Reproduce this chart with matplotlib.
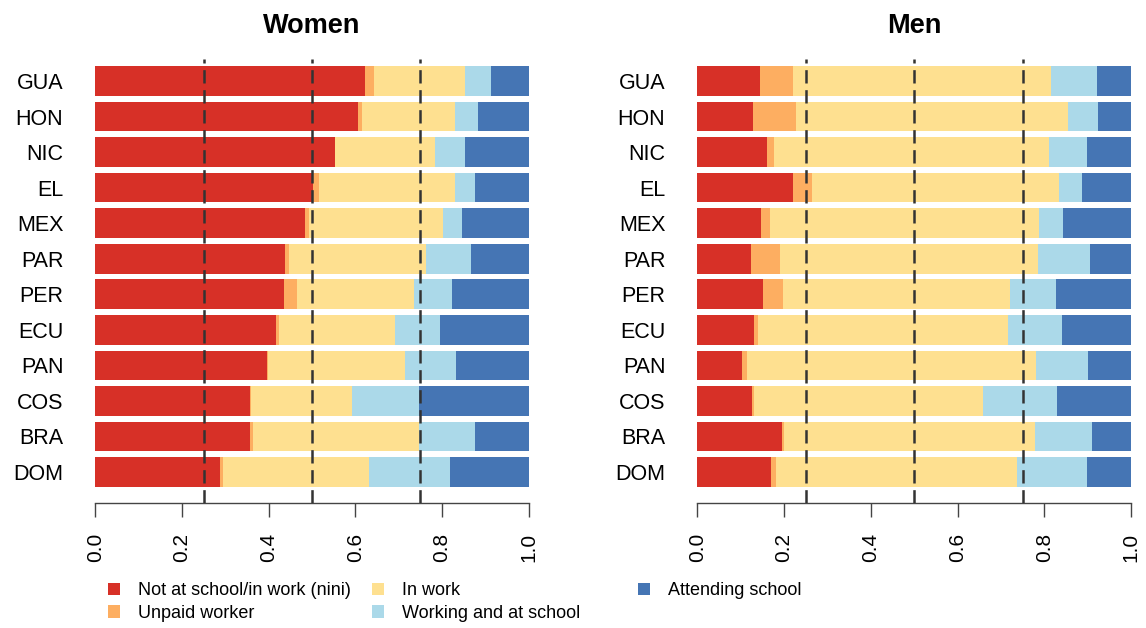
import numpy as np
import matplotlib
matplotlib.use("Agg")
import matplotlib.pyplot as plt
from matplotlib.patches import Patch

# ----------------------
# data (shares, top bar first)
# ----------------------
countries = ["GUA", "HON", "NIC", "EL", "MEX", "PAR", "PER", "ECU", "PAN", "COS", "BRA", "DOM"]
cats = ["Not at school/in work (nini)", "Unpaid worker", "In work",
        "Working and at school", "Attending school"]

women_nini   = [.622, .605, .552, .503, .485, .438, .436, .417, .396, .358, .357, .288]
women_unpaid = [.022, .010, .002, .012, .007, .008, .029, .006, .002, .001, .008, .007]
women_work   = [.208, .215, .230, .316, .310, .316, .270, .269, .317, .233, .383, .337]
women_both   = [.061, .052, .068, .045, .045, .106, .089, .103, .118, .156, .127, .186]
women_school = [.087, .118, .148, .124, .153, .132, .176, .205, .167, .252, .125, .182]

men_nini   = [.144, .128, .161, .221, .146, .123, .151, .130, .104, .127, .196, .171]
men_unpaid = [.077, .099, .017, .043, .022, .068, .047, .009, .010, .004, .004, .010]
men_work   = [.594, .627, .634, .571, .619, .594, .524, .578, .668, .528, .579, .555]
men_both   = [.106, .071, .087, .052, .057, .120, .106, .124, .119, .170, .131, .163]
men_school = [.079, .075, .101, .113, .156, .095, .172, .159, .099, .171, .090, .101]

colors = ["#D73027", "#FDAE61", "#FEE090", "#ABD9E9", "#4575B4"]

plt.rcParams["font.family"] = ["Liberation Sans", "DejaVu Sans"]
plt.rcParams["lines.scale_dashes"] = False

W, H = 1146, 628
fig = plt.figure(figsize=(W / 100, H / 100), dpi=100)

# axes boxes in pixels: left, right, top, bottom
def px_axes(left, right, top, bottom):
    return fig.add_axes([left / W, 1 - bottom / H, (right - left) / W, (bottom - top) / H])

ax_w = px_axes(95.3, 528.7, 59, 503)
ax_m = px_axes(697.3, 1131, 59, 503)


# ----------------------
# one panel
# ----------------------
def panel(ax, title, series):
    n = len(countries)
    ypos = np.arange(n)[::-1]   # GUA on top
    left = np.zeros(n)
    for vals, col in zip(series, colors):
        vals = np.array(vals)
        ax.barh(ypos, vals, left=left, height=0.833, color=col, edgecolor="none")
        left = left + vals

    for v in [0.25, 0.5, 0.75]:
        ax.axvline(v, color="#333333", lw=1.8, dashes=(9.6, 4.8), zorder=3)

    ax.set_xlim(0, 1)
    ax.set_ylim(-0.875, n - 1 + 0.622)
    for s in ["top", "right", "left"]:
        ax.spines[s].set_visible(False)
    ax.spines["bottom"].set_color("#444444")
    ax.spines["bottom"].set_linewidth(1.0)

    ax.set_xticks([0, 0.2, 0.4, 0.6, 0.8, 1.0])
    ax.set_xticklabels(["0.0", "0.2", "0.4", "0.6", "0.8", "1.0"], rotation=90, fontsize=15)
    ax.tick_params(axis="x", length=10, width=1.0, color="#444444", pad=11.5)

    ax.set_yticks(ypos)
    ax.set_yticklabels(countries, fontsize=15.5)
    ax.tick_params(axis="y", length=0, pad=23)

    ax.set_title(title, fontsize=19.5, fontweight="bold", pad=18.5)


panel(ax_w, "Women", [women_nini, women_unpaid, women_work, women_both, women_school])
panel(ax_m, "Men", [men_nini, men_unpaid, men_work, men_both, men_school])

# ----------------------
# legend, three columns
# ----------------------
handles = [Patch(facecolor=c, edgecolor="none", label=l) for c, l in zip(colors, cats)]
groups = [(handles[0:2], 108), (handles[2:4], 372), (handles[4:5], 638)]
for hs, xleft in groups:
    fig.legend(handles=hs, loc="upper left", bbox_to_anchor=(xleft / W, 1 - 582 / H),
               frameon=False, fontsize=13, handlelength=0.66, handleheight=0.66,
               handletextpad=1.0, labelspacing=0.32, borderpad=0, borderaxespad=0)

fig.savefig("out.png", dpi=100)
